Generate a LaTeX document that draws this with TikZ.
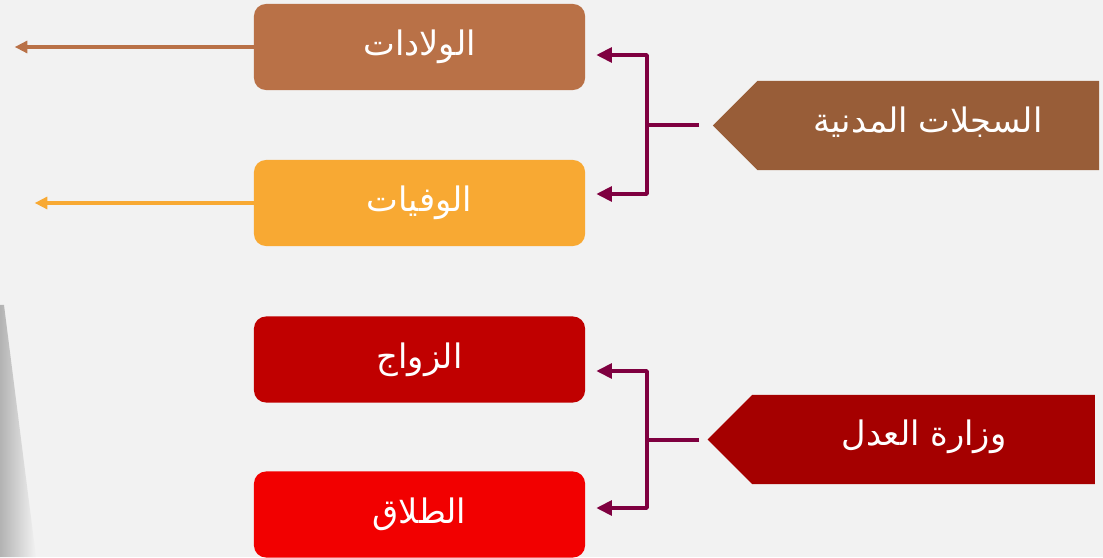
\documentclass[tikz,border=0pt]{standalone}
\usepackage{fontspec}
\newfontfamily\arabicfont[Script=Arabic]{DejaVu Sans}
\TeXXeTstate=1
\usetikzlibrary{arrows.meta,positioning,shapes.symbols}

\definecolor{bggray}{HTML}{F2F2F2}
\definecolor{birthc}{HTML}{B97147}
\definecolor{deathc}{HTML}{F8A933}
\definecolor{marrc}{HTML}{C00000}
\definecolor{divc}{HTML}{F20000}
\definecolor{civc}{HTML}{985D38}
\definecolor{justc}{HTML}{A50000}
\definecolor{linkc}{HTML}{7F0040}

\begin{document}
\begin{tikzpicture}[x=0.025cm, y=-0.025cm,
		box/.style={rounded corners=8.5pt, minimum width=8.275cm, minimum height=2.15cm, inner sep=0pt, text=white, font=\arabicfont\fontsize{24}{28}\selectfont},
		pent/.style={signal, signal to=west, signal pointer angle=90, minimum width=9.675cm, minimum height=2.225cm, inner sep=0pt},
		lbl/.style={text=white, font=\arabicfont\fontsize{24}{28}\selectfont},
		link/.style={draw=linkc, line width=2.4pt, line join=round},
		linkarrow/.style={link, -{Triangle[length=11pt,width=10.5pt]}},
		outarrow/.style={line width=2.2pt, -{Triangle[length=9pt,width=8.5pt]}},
	]
		% background and page shadow
		\fill[bggray] (0,0) rectangle (1103,557);
		\shade[left color=gray!60, right color=bggray] (0,305) -- (4,305) -- (36,557) -- (0,557) -- cycle;

		% record boxes
		\node (birth) [box, fill=birthc] at (419.5,47) {\beginR الولادات\endR};
		\node (death) [box, fill=deathc] at (419.5,203) {\beginR الوفيات\endR};
		\node (marr) [box, fill=marrc] at (419.5,359.5) {\beginR الزواج\endR};
		\node (div) [box, fill=divc] at (419.5,514.5) {\beginR الطلاق\endR};

		% sources
		\node (civ) [pent, minimum width=9.65cm, fill=civc] at (928.25,125.5) {};
		\node (civtxt) [lbl] at (928,122) {\beginR السجلات المدنية\endR};
		\node (just) [pent, fill=justc] at (923.5,439.5) {};
		\node (justtxt) [lbl] at (924,437) {\beginR وزارة العدل\endR};

		% brackets
		\coordinate (civin) at (699,125);
		\coordinate (civj) at (647,125);
		\draw[link] (civin) -- (civj);
		\draw[linkarrow] (civj) |- ([shift={(11,8)}]birth.east);
		\draw[linkarrow] (civj) |- ([shift={(11,-9)}]death.east);

		\coordinate (justin) at (699,440);
		\coordinate (justj) at (647,440);
		\draw[link] (justin) -- (justj);
		\draw[linkarrow] (justj) |- ([shift={(11,11.5)}]marr.east);
		\draw[linkarrow] (justj) |- ([shift={(11,-6.5)}]div.east);

		% outputs
		\draw[outarrow, birthc] (birth.west) -- ++(-239,0);
		\draw[outarrow, deathc] (death.west) -- ++(-219,0);
	\end{tikzpicture}
\end{document}
